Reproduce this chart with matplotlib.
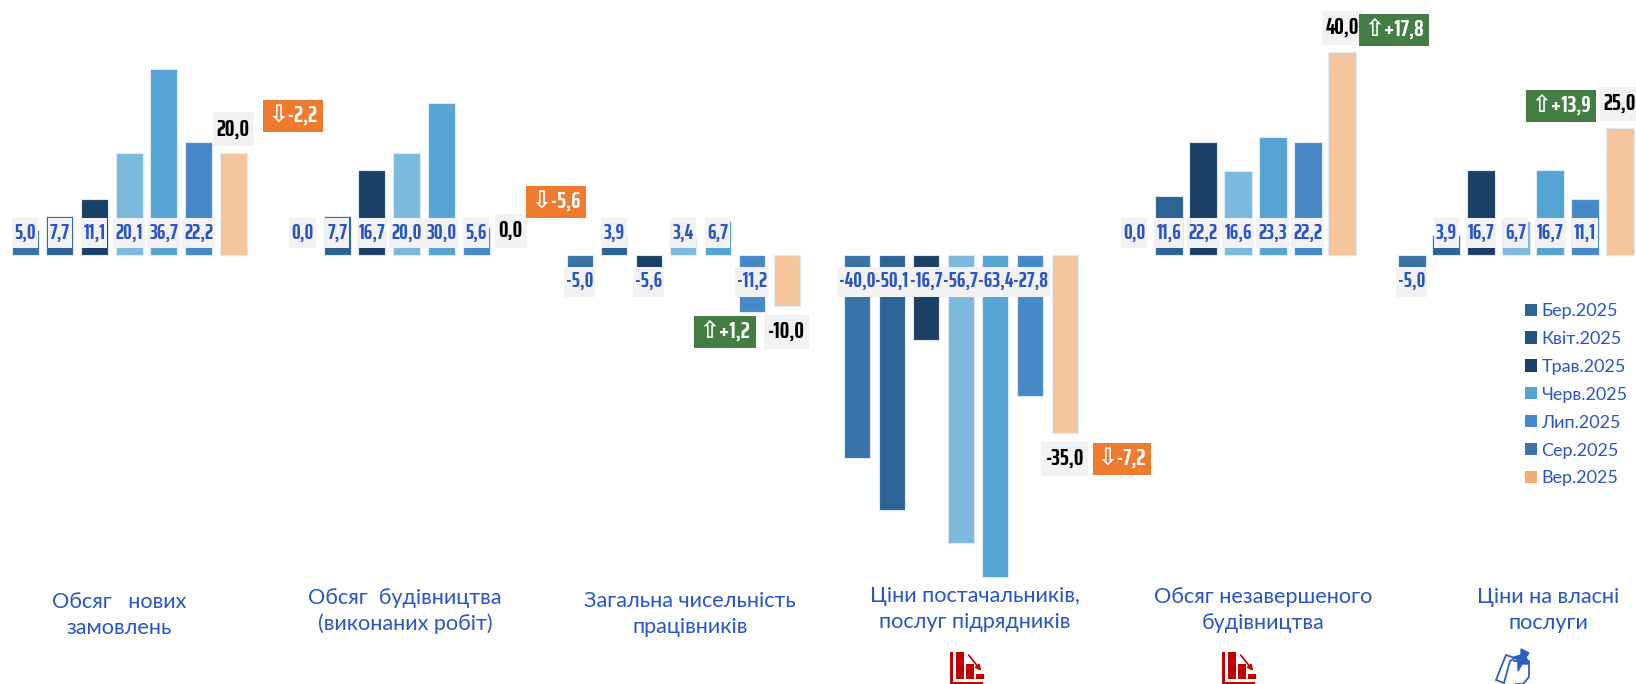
import matplotlib
matplotlib.use("Agg")
import matplotlib.pyplot as plt
from matplotlib.patches import Rectangle, Polygon, Patch

W, H = 1636, 684

# data
months = ["Бер.2025", "Квіт.2025", "Трав.2025", "Черв.2025", "Лип.2025", "Сер.2025", "Вер.2025"]
titles = ["Обсяг   нових\nзамовлень", "Обсяг  будівництва\n(виконаних робіт)",
          "Загальна чисельність\nпрацівників", "Ціни постачальників,\nпослуг підрядників",
          "Обсяг незавершеного\nбудівництва", "Ціни на власні\nпослуги"]
new_orders = [5.0, 7.7, 11.1, 20.1, 36.7, 22.2, 20.0]
construction = [0.0, 7.7, 16.7, 20.0, 30.0, 5.6, 0.0]
employees = [-5.0, 3.9, -5.6, 3.4, 6.7, -11.2, -10.0]
supplier_prices = [-40.0, -50.1, -16.7, -56.7, -63.4, -27.8, -35.0]
unfinished = [0.0, 11.6, 22.2, 16.6, 23.3, 22.2, 40.0]
own_prices = [-5.0, 3.9, 16.7, 6.7, 16.7, 11.1, 25.0]
groups = [new_orders, construction, employees, supplier_prices, unfinished, own_prices]
deltas = [-2.2, -5.6, 1.2, -7.2, 17.8, 13.9]

# layout, px
group_start = [25, 302.5, 579.5, 857, 1134, 1411.5]
group_step = [34.7, 34.7, 34.5, 34.6, 34.7, 34.7]
group_width = [27, 27, 26, 26, 28, 28]
badge_xy = [(293, 116), (556, 202), (725, 332), (1122, 459), (1394, 30), (1561, 106)]
title_xy = [(119, 615), (405, 611), (690, 614), (975, 609), (1263, 610), (1548, 610)]
base_y = 255
px_per_unit = 5.08

bar_colors = ["#3a73a8", "#2e6395", "#1b4166", "#7cb9dd", "#55a4d3", "#4789c6", "#f5c69e"]
legend_colors = ["#2e6395", "#24527f", "#1b4166", "#55a4d3", "#4789c6", "#3a73a8", "#f5ac72"]
BLUE = "#2a55c8"
GREY = "#f2f2f2"

NARROW = ["Saira ExtraCondensed", "Barlow Condensed", "Roboto", "DejaVu Sans"]
SOFT = ["Lato", "Open Sans", "DejaVu Sans"]

fig = plt.figure(figsize=(W / 100, H / 100), dpi=100)
ax = fig.add_axes([0, 0, 1, 1])
ax.set_xlim(0, W)
ax.set_ylim(-(H - base_y) / px_per_unit, base_y / px_per_unit)
ax.axis("off")

# pixel overlay for the loose furniture
ov = fig.add_axes([0, 0, 1, 1], zorder=5)
ov.axis("off")
ov.patch.set_alpha(0)
ov.set_xlim(0, W)
ov.set_ylim(H, 0)
renderer = fig.canvas.get_renderer()


def label_box(t, pad_x, height):
    # grey plate behind a value: hugs the text sideways, fixed height
    bb = t.get_window_extent(renderer)
    cy = H - (bb.y0 + bb.y1) / 2
    ov.add_patch(Rectangle((bb.x0 - pad_x, cy - height / 2), bb.width + 2 * pad_x, height, fc=GREY, ec="none", zorder=1))


for g, vals in enumerate(groups):
    for i, v in enumerate(vals):
        x = group_start[g] + i * group_step[g]
        if v != 0:
            ax.bar(x, v, width=group_width[g], color=bar_colors[i], edgecolor="#dcebf6", linewidth=0.8, zorder=2)
        txt = f"{v:.1f}".replace(".", ",")
        if i < 6:
            t = ov.text(x, 232.5 if v >= 0 else 281.5, txt, ha="center", va="center", color=BLUE, fontsize=15.5,
                        family=NARROW, fontweight="bold", zorder=3)
            label_box(t, 2, 30)
        else:
            off = -24 if v >= 0 else 26
            t = ov.text(x, base_y - v * px_per_unit + off, txt, ha="center", va="center", color="black", fontsize=17,
                        family=NARROW, fontweight="bold", zorder=3)
            label_box(t, 4, 34)

for (bx, by), d in zip(badge_xy, deltas):
    up = d > 0
    s = ("\u21e7+" if up else "\u21e9") + f"{d:.1f}".replace(".", ",")
    ov.text(bx, by, s, ha="center", va="center", color="white", fontsize=17, family=NARROW, fontweight="bold", zorder=3,
            bbox=dict(boxstyle="square,pad=0.22", fc="#447e45" if up else "#ef7b31", ec="none"))

for (x, y), t in zip(title_xy, titles):
    ov.text(x, y, t, ha="center", va="center", color=BLUE, fontsize=15.6, family=SOFT, linespacing=1.35)

handles = [Patch(facecolor=c, edgecolor="none") for c in legend_colors]
leg = ax.legend(handles, months, loc="upper left", bbox_to_anchor=(1525 / W, 1 - 303 / H), frameon=False,
                prop={"family": SOFT, "size": 13}, labelcolor=BLUE, handlelength=0.66, handleheight=0.66,
                handletextpad=0.25, labelspacing=0.66, borderpad=0, borderaxespad=0)


def chart_icon(x0, y0):
    # little red falling-bars pictogram, clipped by the bottom edge like in the source
    red = "#c00000"
    ov.add_patch(Rectangle((x0, y0), 2.5, 33, fc=red, ec="none"))
    ov.add_patch(Rectangle((x0, y0 + 30), 33, 2.5, fc=red, ec="none"))
    ov.add_patch(Rectangle((x0 + 6, y0), 8, 27, fc=red, ec="none"))
    ov.add_patch(Rectangle((x0 + 16, y0 + 12), 8, 15, fc=red, ec="none"))
    ov.add_patch(Rectangle((x0 + 26, y0 + 22), 8, 5, fc=red, ec="none"))
    ov.annotate("", xy=(x0 + 33, y0 + 21), xytext=(x0 + 17, y0 + 1),
                arrowprops=dict(arrowstyle="-|>", color=red, lw=1.2, mutation_scale=8))


def pin_icon(x0, y0):
    blue = "#2f5fbf"
    ov.add_patch(Polygon([(x0 + 10, y0 + 8), (x0 + 19, y0 + 11), (x0 + 14, y0 + 14), (x0 + 8, y0 + 36), (x0, y0 + 33)],
                         closed=True, fc="none", ec=blue, lw=1.3))
    ov.plot([x0 + 18, x0 + 33, x0 + 33, x0 + 27, x0 + 20], [y0 + 14, y0 + 14, y0 + 30, y0 + 37, y0 + 37], color=blue, lw=1.3)
    ov.add_patch(Polygon([(x0 + 25, y0 + 2), (x0 + 33, y0 + 6), (x0 + 30, y0 + 10), (x0 + 33, y0 + 17), (x0 + 26, y0 + 17),
                          (x0 + 22, y0 + 24), (x0 + 22, y0 + 14), (x0 + 18, y0 + 10), (x0 + 25, y0 + 8)],
                         closed=True, fc=blue, ec=blue))


chart_icon(950, 652)
chart_icon(1222, 652)
pin_icon(1496, 647)
ov.set_xlim(0, W)
ov.set_ylim(H, 0)

fig.savefig("out.png", dpi=100, facecolor="white")
